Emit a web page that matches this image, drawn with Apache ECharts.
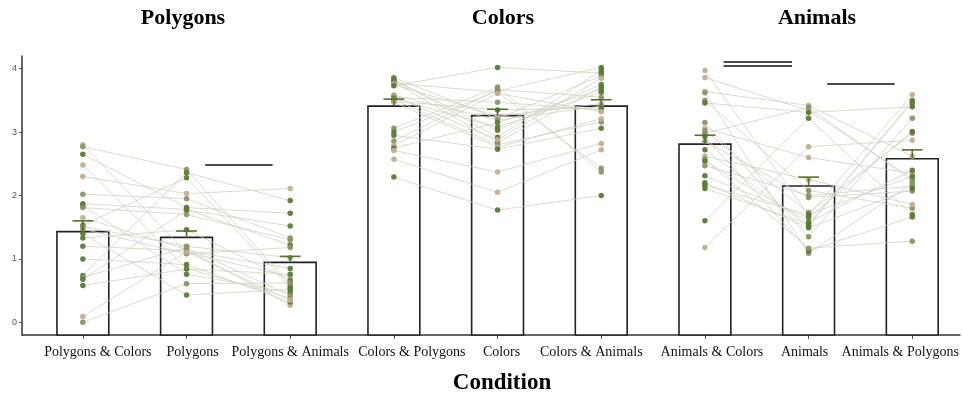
<!DOCTYPE html>
<html>
<head>
<meta charset="utf-8">
<script src="https://cdn.jsdelivr.net/npm/echarts@6/dist/echarts.min.js"></script>
<style>
html,body{margin:0;padding:0;background:#fff;}
#chart{width:962px;height:394px;}
</style>
</head>
<body>
<div id="chart"></div>
<script>
// ---------------- DATA ----------------
const panels = ['Polygons', 'Colors', 'Animals'];
const categories = ['Polygons & Colors', 'Polygons', 'Polygons & Animals',
  'Colors & Polygons', 'Colors', 'Colors & Animals',
  'Animals & Colors', 'Animals', 'Animals & Polygons'];
const yTicks = [0, 1, 2, 3, 4];

// bar heights (means) and upper error-bar ends (mean + SE)
const means = [1.43, 1.34, 0.945, 3.41, 3.26, 3.41, 2.81, 2.15, 2.58];
const errUpper = [1.60, 1.44, 1.04, 3.52, 3.36, 3.51, 2.95, 2.29, 2.72];

// individual participants (index = participant), per condition
const polyColors   = [2.80, 2.77, 2.65, 2.48, 2.30, 2.02, 1.87, 1.84, 1.81, 1.65, 1.53, 1.51, 1.47, 1.40, 1.33, 1.20, 1.00, 0.74, 0.71, 0.68, 0.58, 0.09, 0.00];
const polyOnly     = [1.10, 2.41, 1.81, 0.85, 2.03, 1.95, 1.78, 0.76, 1.70, 1.15, 2.28, 1.20, 1.08, 0.43, 1.46, 1.13, 0.91, 2.36, 1.18, 1.77, 0.84, 1.11, 0.61];
const polyAnimals  = [0.72, 0.59, 1.72, 0.38, 2.11, 1.33, 1.22, 0.47, 1.30, 0.27, 0.55, 1.02, 1.18, 0.52, 0.66, 0.85, 0.32, 1.92, 0.42, 1.52, 0.76, 0.35, 0.62];

const colPolygons  = [3.86, 3.84, 3.81, 3.79, 3.77, 3.75, 3.73, 3.58, 3.56, 3.55, 3.53, 3.51, 3.49, 3.47, 3.06, 3.00, 2.95, 2.86, 2.79, 2.75, 2.71, 2.57, 2.29];
const colOnly      = [3.21, 2.92, 3.03, 2.84, 3.63, 3.25, 4.02, 3.19, 2.88, 3.47, 3.08, 2.80, 3.35, 2.76, 3.71, 3.65, 2.73, 3.67, 3.61, 3.15, 2.37, 2.05, 1.77];
const colAnimals   = [3.89, 3.97, 3.75, 3.71, 2.43, 3.45, 3.93, 3.41, 3.85, 3.35, 3.63, 3.16, 3.38, 3.21, 2.37, 4.02, 3.06, 3.55, 3.32, 3.67, 2.82, 2.72, 2.00];

const aniColors    = [3.97, 3.86, 3.64, 3.62, 3.50, 3.46, 3.15, 3.06, 3.02, 2.98, 2.93, 2.85, 2.72, 2.62, 2.57, 2.54, 2.47, 2.31, 2.20, 2.16, 2.11, 1.60, 1.18];
const aniOnly      = [1.69, 3.34, 3.42, 1.09, 2.08, 3.31, 1.35, 2.60, 1.73, 3.39, 1.13, 1.97, 1.52, 2.25, 1.17, 1.58, 2.00, 1.65, 1.49, 1.70, 1.55, 3.22, 2.77];
const aniPolygons  = [3.59, 2.27, 2.62, 2.19, 1.80, 3.40, 3.22, 2.35, 2.98, 2.23, 1.66, 2.07, 3.50, 1.86, 1.28, 2.40, 2.15, 3.01, 2.11, 2.30, 3.46, 1.70, 2.87];

// significance bars: start/end (category units), height (data units), number of strokes
const sigStart = [1.18, 6.18, 7.18];
const sigEnd   = [1.83, 6.84, 7.83];
const sigY     = [2.49, 4.11, 3.77];
const sigCount = [1, 2, 1];

// ---------------- STYLE ----------------
const shades = ['#5b7a37', '#8b9366', '#c2ae92'];
const shadeIdx = [
  [2,1,0,2,2,1,0,0,1,2,0,1,1,0,0,0,0,0,1,0,0,2,1],
  [1,0,0,0,1,2,0,1,2,1,0,1,0,2,1,0,0,1,2,0,2,2,0],
  [2,2,2,1,1,0,1,2,1,1,0,1,0,2,1,0,1,0,0,0,0,0,2]
];
// horizontal nudges (px) of the category labels, as placed in the reference
const labelShift = [15, 6, 0, 18, 4, -10, 7, -4, -12];

const panelData = [
  [polyColors, polyOnly, polyAnimals],
  [colPolygons, colOnly, colAnimals],
  [aniColors, aniOnly, aniPolygons]
];

const lineData = [];
const dotData = [];
panelData.forEach((cols, p) => {
  const n = cols[0].length;
  for (let i = 0; i < n; i++) {
    lineData.push({coords: cols.map((c, k) => [p * 3 + k, c[i]])});
    cols.forEach((c, k) => {
      dotData.push({value: [p * 3 + k, c[i]], itemStyle: {color: shades[shadeIdx[p][i]]}});
    });
  }
});

const sigData = [];
sigStart.forEach((s, j) => {
  for (let m = 0; m < sigCount[j]; m++) {
    sigData.push({coords: [[s, sigY[j] - m * 0.07], [sigEnd[j], sigY[j] - m * 0.07]]});
  }
});

const serif = '"Liberation Serif", "Times New Roman", serif';
const rich = {};
labelShift.forEach((d, i) => {
  rich['c' + i] = {fontFamily: serif, fontSize: 14, color: '#111',
    padding: d >= 0 ? [0, 0, 0, 2 * d] : [0, -2 * d, 0, 0]};
});

const chart = echarts.init(document.getElementById('chart'), null, {renderer: 'canvas'});

chart.setOption({
  animation: false,
  backgroundColor: '#ffffff',
  grid: {left: 22, right: 0, top: 56, bottom: 59, containLabel: false},
  xAxis: {
    type: 'value', min: -0.587, max: 8.46,
    axisLine: {show: true, onZero: false, lineStyle: {color: '#333', width: 1.5}},
    splitLine: {show: false},
    axisTick: {show: true, customValues: categories.map((c, i) => i), length: 4, lineStyle: {color: '#555'}},
    axisLabel: {
      show: true, customValues: categories.map((c, i) => i),
      formatter: v => { const i = Math.round(v); return categories[i] ? '{c' + i + '|' + categories[i] + '}' : ''; },
      rich: rich, margin: 10
    }
  },
  yAxis: {
    type: 'value', min: -0.2, max: 4.2,
    axisLine: {show: true, onZero: false, lineStyle: {color: '#333', width: 1.5}},
    splitLine: {show: false},
    axisTick: {show: true, customValues: yTicks, length: 3, lineStyle: {color: '#555'}},
    axisLabel: {show: true, customValues: yTicks, fontSize: 9, color: '#555', margin: 5,
      fontFamily: 'Liberation Sans, Arial, sans-serif'}
  },
  series: [
    {
      type: 'custom', z: 1,
      data: means.map((m, i) => [i, m]),
      renderItem: (params, api) => {
        const i = api.value(0), v = api.value(1);
        const top = api.coord([i, v]);
        const bot = api.coord([i, -0.2]);
        const w = api.size([0.5, 0])[0];
        return {type: 'rect', shape: {x: top[0] - w / 2, y: top[1], width: w, height: bot[1] - top[1]},
          style: {fill: '#ffffff', stroke: '#222', lineWidth: 1.6}};
      }
    },
    {
      type: 'lines', coordinateSystem: 'cartesian2d', polyline: true, z: 2,
      silent: true,
      lineStyle: {color: '#cfcfc0', width: 1, opacity: 0.75},
      data: lineData
    },
    {
      type: 'scatter', z: 3, symbolSize: 5.5,
      itemStyle: {opacity: 0.95},
      data: dotData
    },
    {
      type: 'custom', z: 4,
      data: errUpper.map((u, i) => [i, means[i], u]),
      renderItem: (params, api) => {
        const i = api.value(0);
        const m = api.coord([i, api.value(1)]);
        const u = api.coord([i, api.value(2)]);
        const hw = api.size([0.1, 0])[0];
        return {type: 'group', children: [
          {type: 'line', shape: {x1: m[0], y1: m[1], x2: u[0], y2: u[1]}, style: {stroke: '#55702f', lineWidth: 1.6}},
          {type: 'line', shape: {x1: u[0] - hw, y1: u[1], x2: u[0] + hw, y2: u[1]}, style: {stroke: '#55702f', lineWidth: 1.6}}
        ]};
      }
    },
    {
      type: 'lines', coordinateSystem: 'cartesian2d', z: 5, silent: true,
      lineStyle: {color: '#111', width: 1.5, opacity: 1},
      data: sigData
    }
  ],
  graphic: [
    {type: 'text', x: 183, y: 18, style: {text: panels[0], font: 'bold 22px ' + serif, fill: '#000', textAlign: 'center', textVerticalAlign: 'middle'}},
    {type: 'text', x: 503, y: 18, style: {text: panels[1], font: 'bold 22px ' + serif, fill: '#000', textAlign: 'center', textVerticalAlign: 'middle'}},
    {type: 'text', x: 817, y: 18, style: {text: panels[2], font: 'bold 22px ' + serif, fill: '#000', textAlign: 'center', textVerticalAlign: 'middle'}},
    {type: 'text', x: 502, y: 383, style: {text: 'Condition', font: 'bold 23px ' + serif, fill: '#000', textAlign: 'center', textVerticalAlign: 'middle'}}
  ]
});
</script>
</body>
</html>
